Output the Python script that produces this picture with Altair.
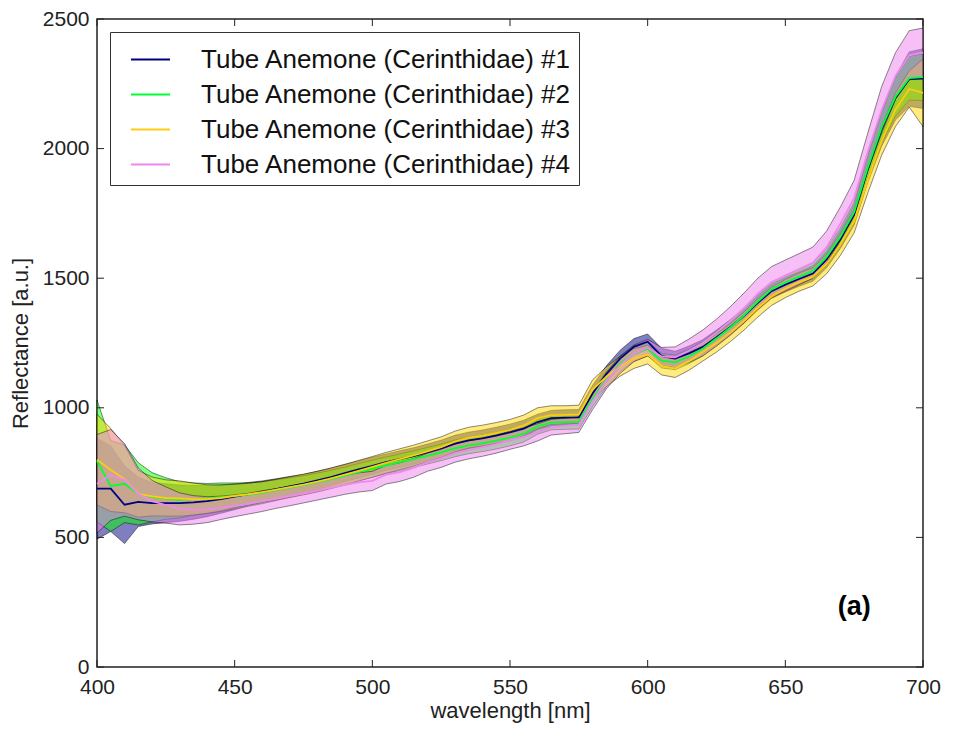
import altair as alt
import pandas as pd

FONT = "Liberation Sans"

wavelengths = [400, 405, 410, 415, 420, 425, 430, 435, 440, 445, 450,
               455, 460, 465, 470, 475, 480, 485, 490, 495, 500,
               505, 510, 515, 520, 525, 530, 535, 540, 545, 550,
               555, 560, 565, 570, 575, 580, 585, 590, 595, 600,
               605, 610, 615, 620, 625, 630, 635, 640, 645, 650,
               655, 660, 665, 670, 675, 680, 685, 690, 695, 700]

series_names = ["Tube Anemone (Cerinthidae) #1", "Tube Anemone (Cerinthidae) #2",
                "Tube Anemone (Cerinthidae) #3", "Tube Anemone (Cerinthidae) #4"]

mean_1 = [688, 688, 626, 637, 632, 632, 632, 635, 640, 648, 657,
          667, 676, 686, 697, 707, 720, 733, 748, 762, 776,
          790, 802, 814, 828, 843, 862, 874, 882, 893, 905,
          920, 945, 960, 962, 963, 1055, 1130, 1190, 1235, 1255,
          1200, 1190, 1210, 1235, 1272, 1312, 1355, 1405, 1450, 1475,
          1497, 1518, 1572, 1650, 1745, 1920, 2075, 2195, 2268, 2270]
std_1 = [195, 165, 150, 95, 80, 75, 70, 65, 60, 55, 50,
         45, 42, 40, 38, 36, 35, 34, 33, 33, 33,
         32, 32, 32, 32, 32, 32, 32, 32, 32, 32,
         32, 30, 30, 30, 30, 32, 32, 32, 32, 30,
         30, 28, 28, 28, 28, 28, 28, 28, 28, 28,
         28, 30, 32, 35, 40, 50, 65, 85, 105, 115]

mean_2 = [795, 698, 707, 668, 655, 650, 645, 648, 650, 655, 660,
          665, 672, 682, 692, 702, 713, 725, 738, 752, 765,
          778, 790, 802, 815, 828, 843, 855, 863, 873, 885,
          900, 928, 943, 945, 946, 1035, 1110, 1170, 1210, 1228,
          1182, 1175, 1198, 1228, 1268, 1310, 1357, 1410, 1457, 1483,
          1506, 1528, 1582, 1660, 1755, 1928, 2082, 2200, 2272, 2276]
std_2 = [235, 175, 150, 120, 95, 80, 70, 62, 58, 55, 50,
         45, 42, 40, 38, 36, 35, 34, 33, 33, 33,
         32, 32, 32, 32, 32, 32, 32, 32, 32, 32,
         32, 30, 28, 28, 28, 30, 30, 30, 30, 28,
         28, 28, 28, 28, 28, 28, 28, 28, 28, 28,
         28, 30, 32, 35, 40, 50, 60, 75, 85, 90]

mean_3 = [800, 760, 725, 668, 658, 652, 650, 648, 648, 652, 660,
          667, 675, 684, 694, 704, 715, 728, 742, 757, 772,
          788, 802, 816, 832, 848, 870, 885, 893, 903, 915,
          932, 960, 972, 973, 975, 1070, 1120, 1160, 1190, 1205,
          1162, 1152, 1180, 1215, 1250, 1290, 1335, 1385, 1430, 1460,
          1485, 1505, 1555, 1630, 1720, 1880, 2030, 2150, 2230, 2215]
std_3 = [175, 160, 130, 90, 75, 70, 68, 62, 55, 50, 45,
         42, 40, 40, 40, 40, 40, 40, 40, 40, 40,
         40, 40, 40, 40, 40, 40, 40, 40, 40, 40,
         40, 40, 36, 35, 35, 38, 38, 38, 38, 36,
         35, 35, 35, 35, 35, 35, 35, 35, 35, 35,
         35, 35, 38, 42, 45, 50, 55, 65, 70, 130]

mean_4 = [707, 741, 722, 668, 640, 625, 610, 606, 607, 614, 622,
          630, 640, 650, 660, 670, 681, 692, 703, 712, 718,
          742, 752, 768, 790, 805, 825, 838, 848, 860, 875,
          888, 905, 925, 930, 935, 1025, 1105, 1165, 1210, 1232,
          1198, 1195, 1220, 1250, 1290, 1335, 1385, 1440, 1485, 1510,
          1535, 1560, 1620, 1710, 1810, 1990, 2150, 2280, 2360, 2370]
std_4 = [190, 175, 140, 100, 80, 70, 62, 55, 50, 45, 42,
         40, 40, 38, 38, 37, 37, 37, 37, 37, 37,
         36, 36, 36, 35, 35, 35, 35, 35, 35, 35,
         35, 33, 30, 30, 30, 32, 32, 32, 32, 32,
         35, 40, 45, 50, 52, 55, 58, 60, 60, 60,
         60, 60, 62, 65, 68, 72, 90, 90, 95, 95]

line_colors = ["#000080", "#00ff33", "#ffcc11", "#ee88ee"]
fill_colors = ["#000080", "#00ff00", "#ffd700", "#ee82ee"]

x_ticks = [400, 450, 500, 550, 600, 650, 700]
y_ticks = [0, 500, 1000, 1500, 2000, 2500]

panel_label = "(a)"
panel_label_x = 675
panel_label_y = 230

W, H = 826, 648

band_names = [n + " band" for n in series_names]

rows = []
for name, bname, m, s in zip(series_names, band_names, [mean_1, mean_2, mean_3, mean_4],
                             [std_1, std_2, std_3, std_4]):
    for w, mv, sv in zip(wavelengths, m, s):
        rows.append({"series": name, "band": bname, "wl": w, "mean": mv,
                     "lo": mv - sv, "hi": mv + sv})
df = pd.DataFrame(rows)

xscale = alt.Scale(domain=[400, 700], nice=False, zero=False)
yscale = alt.Scale(domain=[0, 2500], nice=False)

x_axis = alt.Axis(values=x_ticks, format="d", ticks=False, domain=False, grid=False,
                  labelFontSize=21, labelFont=FONT, labelColor="#222", labelPadding=9,
                  titleFontSize=22, titleFont=FONT, titleFontWeight="normal",
                  titleColor="#222", titlePadding=3, labelFlush=False)
y_axis = alt.Axis(values=y_ticks, format="d", ticks=False, domain=False, grid=False,
                  labelFontSize=21, labelFont=FONT, labelColor="#222", labelPadding=8,
                  titleFontSize=22, titleFont=FONT, titleFontWeight="normal",
                  titleColor="#222", titlePadding=10, labelFlush=False)
X_TITLE = "wavelength [nm]"
Y_TITLE = "Reflectance [a.u.]"


def xenc(field):
    return alt.X(field, scale=xscale, axis=x_axis, title=X_TITLE)


def yenc(field):
    return alt.Y(field, scale=yscale, axis=y_axis, title=Y_TITLE)


base = alt.Chart(df)

area = base.mark_area(fillOpacity=0.5, stroke="black", strokeOpacity=0.45,
                      strokeWidth=1).encode(
    x=xenc("wl:Q"),
    y=yenc("lo:Q"),
    y2="hi:Q",
    fill=alt.Fill("band:N", scale=alt.Scale(domain=band_names, range=fill_colors),
                  legend=None),
)

lines = base.mark_line(strokeWidth=1.8).encode(
    x=xenc("wl:Q"),
    y=yenc("mean:Q"),
    color=alt.Color("series:N",
                    scale=alt.Scale(domain=series_names, range=line_colors),
                    legend=alt.Legend(title=None, orient="top-left", offset=13,
                                      symbolType="stroke", symbolSize=1521,
                                      symbolStrokeWidth=2, symbolOffset=13,
                                      labelFontSize=26, labelFont=FONT,
                                      labelColor="#111", labelOffset=30,
                                      labelLimit=600, rowPadding=1, padding=7,
                                      strokeColor="#333", fillColor="white")),
)

xt = pd.DataFrame({"v": x_ticks})
yt = pd.DataFrame({"v": y_ticks})

xticks_bottom = alt.Chart(xt).mark_rule(color="#222", strokeWidth=1).encode(
    x=xenc("v:Q"), y=alt.value(H), y2=alt.value(H - 7))
xticks_top = alt.Chart(xt).mark_rule(color="#222", strokeWidth=1).encode(
    x=xenc("v:Q"), y=alt.value(0), y2=alt.value(7))
yticks_left = alt.Chart(yt).mark_rule(color="#222", strokeWidth=1).encode(
    y=yenc("v:Q"), x=alt.value(0), x2=alt.value(7))
yticks_right = alt.Chart(yt).mark_rule(color="#222", strokeWidth=1).encode(
    y=yenc("v:Q"), x=alt.value(W), x2=alt.value(W - 7))

label = alt.Chart(pd.DataFrame({"x": [panel_label_x], "y": [panel_label_y],
                                "t": [panel_label]})).mark_text(
    fontSize=27, fontWeight="bold", font=FONT, color="black", baseline="middle",
    align="center").encode(
    x=xenc("x:Q"),
    y=yenc("y:Q"),
    text="t:N")

chart = alt.layer(area, lines, xticks_bottom, xticks_top, yticks_left, yticks_right,
                  label).properties(
    width=W, height=H,
    autosize=alt.AutoSizeParams(type="none"),
    padding={"left": 89, "top": 11, "right": 20, "bottom": 56},
    background="white",
    view=alt.ViewBackground(stroke="#222", strokeWidth=1.5),
).configure_view(stroke="#222", strokeWidth=1.5)

chart.save("out.html", embed_options={"renderer": "svg", "actions": False})
